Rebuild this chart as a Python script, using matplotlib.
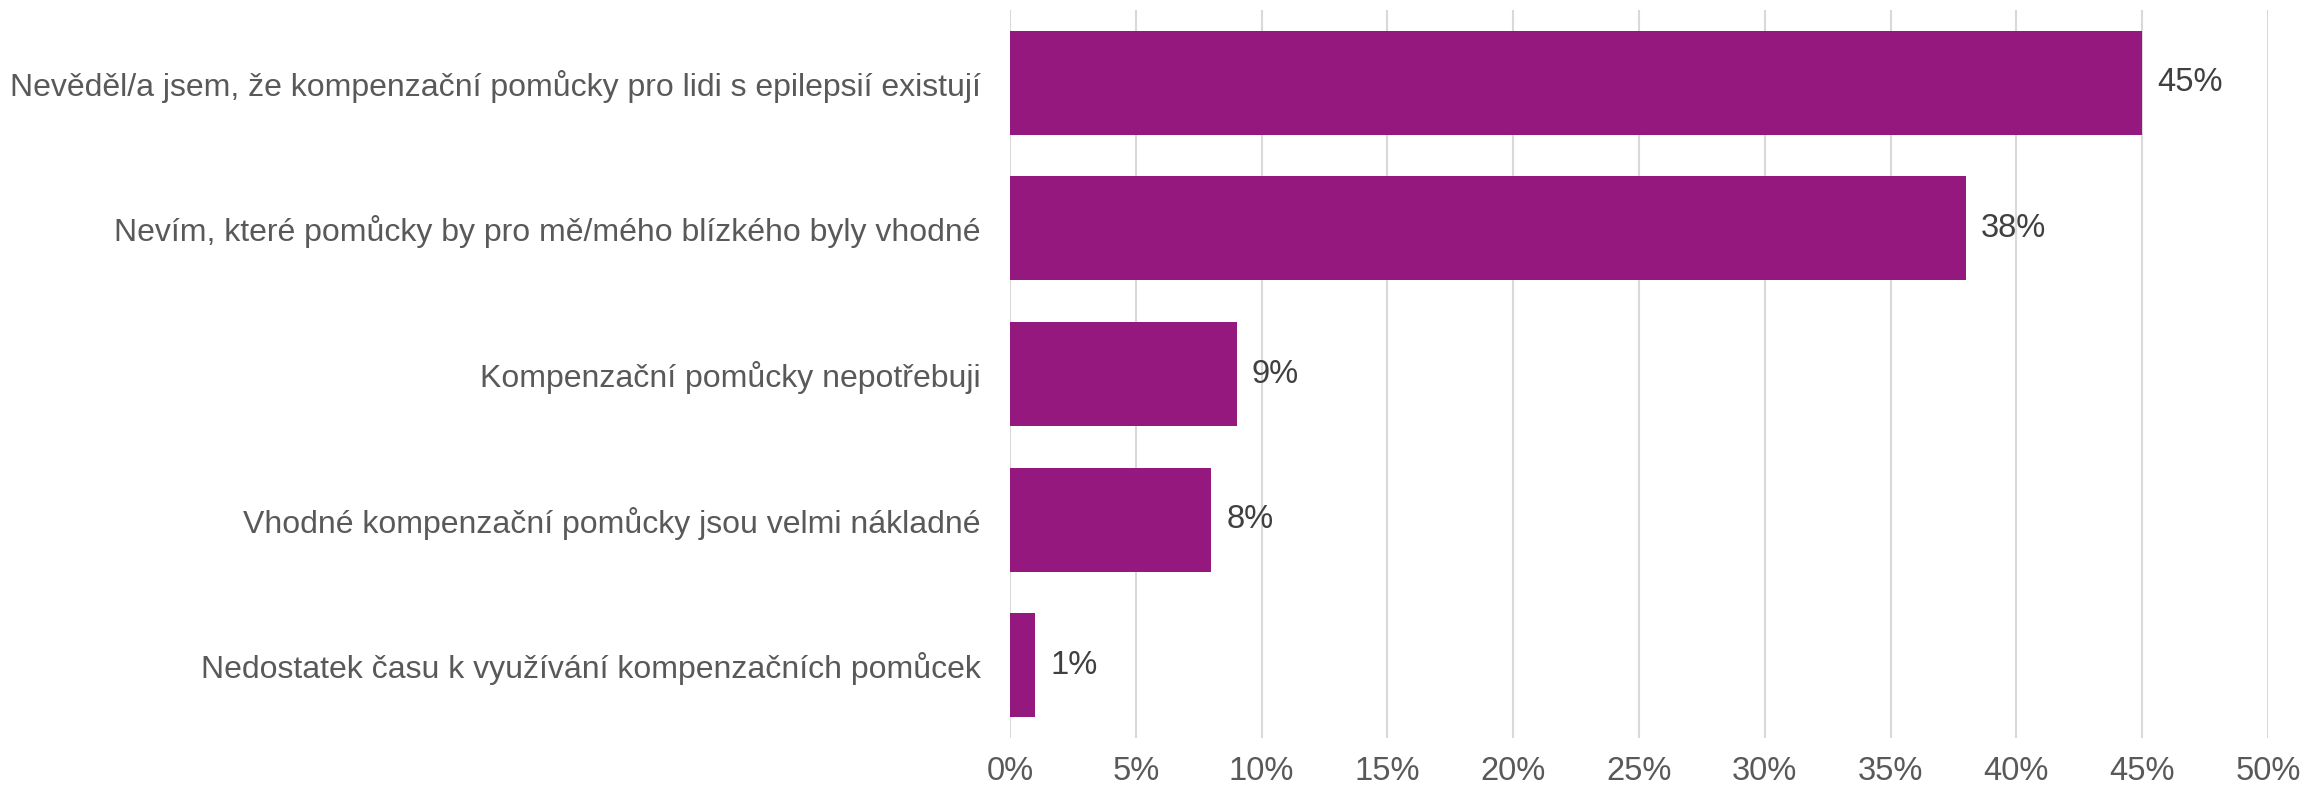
import matplotlib
matplotlib.use("Agg")
import matplotlib.pyplot as plt
from matplotlib.ticker import FuncFormatter

# ------------- data -------------
categories = [
    "Nevěděl/a jsem, že kompenzační pomůcky pro lidi s epilepsií existují",
    "Nevím, které pomůcky by pro mě/mého blízkého byly vhodné",
    "Kompenzační pomůcky nepotřebuji",
    "Vhodné kompenzační pomůcky jsou velmi nákladné",
    "Nedostatek času k využívání kompenzačních pomůcek",
]
values = [45, 38, 9, 8, 1]
xticks = [0, 5, 10, 15, 20, 25, 30, 35, 40, 45, 50]

plt.rcParams['font.family'] = ['Liberation Sans', 'DejaVu Sans']

fig = plt.figure(figsize=(23.03, 7.89), dpi=100)
ax = fig.add_axes([0.4386, 0.0646, 0.5462, 0.9227])

ypos = list(range(len(categories)))
ax.barh(ypos, values, height=0.714, color="#95187F", zorder=3)

# value labels
for y, v in zip(ypos, values):
    ax.text(v + 0.6, y, f"{v}%", va="center", ha="left",
            fontsize=23.5, color="#404040", zorder=4)

ax.set_yticks(ypos)
ax.set_yticklabels(categories, fontsize=23, color="#595959")
ax.set_ylim(len(categories) - 0.5, -0.5)

ax.set_xlim(0, 50)
ax.set_xticks(xticks)
ax.xaxis.set_major_formatter(FuncFormatter(lambda x, p: f"{int(x)}%"))
ax.tick_params(axis="x", labelsize=23.5, labelcolor="#595959", length=0, pad=13)
ax.tick_params(axis="y", length=0, pad=21)

ax.grid(axis="x", color="#D9D9D9", linewidth=1.5, zorder=0)
for s in ax.spines.values():
    s.set_visible(False)

fig.savefig("out.png", dpi=100)
